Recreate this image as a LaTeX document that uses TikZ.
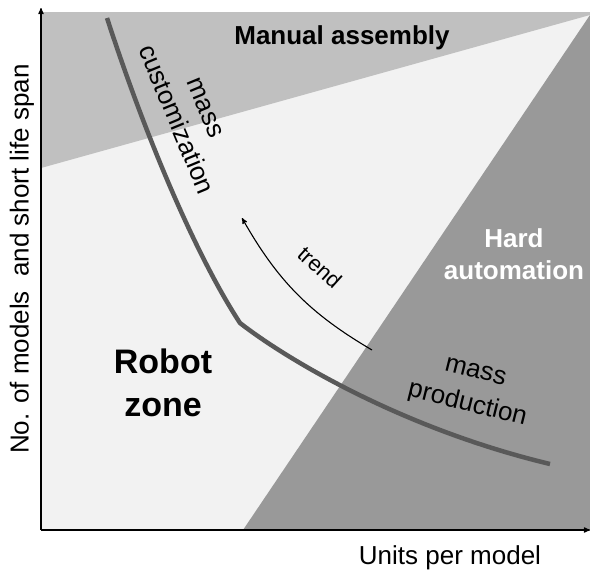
\documentclass[tikz,border=0pt]{standalone}
\usepackage{fontspec}
\setmainfont{Liberation Sans}
\usepackage{tikz}
\usetikzlibrary{arrows}
\definecolor{zonebg}{HTML}{F2F2F2}
\definecolor{manualgray}{HTML}{C0C0C0}
\definecolor{hardgray}{HTML}{999999}
\definecolor{curvegray}{HTML}{595959}
\tikzset{
	axis/.style={->,line width=1.2pt},
	trend line/.style={->,line width=1.1pt},
	plain label/.style={font=\fontsize{26}{32}\selectfont,align=center,inner sep=0pt},
	bold label/.style={font=\fontsize{26}{32}\selectfont\bfseries,align=center,inner sep=0pt},
	big label/.style={font=\fontsize{34}{43}\selectfont\bfseries,align=center,inner sep=0pt}
}

\begin{document}
\begin{tikzpicture}[>=stealth',x=1pt,y=-1pt]
	\useasboundingbox (0,0) rectangle (590,574);

	% zones
	\fill[zonebg] (41,12) rectangle (590,530);
	\fill[manualgray] (41,12) -- (590,12) -- (590,15) -- (41,168) -- cycle;
	\fill[hardgray] (590,15) -- (590,530) -- (243,530) -- cycle;

	% axes
	\coordinate (o) at (41,530);
	\coordinate (ytop) at (41,8);
	\coordinate (xend) at (590,530);
	\draw[axis] (o) -- (ytop);
	\draw[axis] (o) -- (xend);

	% product curve, with a knee at (240,323)
	\draw[curvegray,line width=4.5pt,line join=round]
	  (107,18) .. controls (150,150) and (200,262) .. (240,323)
	  .. controls (285,358) and (400,428) .. (550,464);

	% trend
	\coordinate (trendstart) at (372,350);
	\coordinate (trendend) at (242,218);
	\draw[trend line] (trendstart) to[bend left=15] (trendend);

	\node[bold label] (manual) at (342,38) {Manual assembly};
	\node[big label] (robot) at (163,383) {Robot\\zone};
	\node[bold label,text=white] (hard) at (514,254) {Hard\\automation};
	\node[plain label,rotate=-67.5] (custom) at (190,114) {mass\\customization};
	\node[plain label,rotate=-14,font=\fontsize{26}{34}\selectfont] (production) at (471,390) {mass\\production};
	\node[plain label,font=\fontsize{22}{26}\selectfont,rotate=-42] (trend) at (320,267) {trend};

	\node[plain label] (xlabel) at (450,558) {Units per model};
	\node[plain label,rotate=90] (ylabel) at (22,259) {No. of models\ \ and short life span};
\end{tikzpicture}
\end{document}
